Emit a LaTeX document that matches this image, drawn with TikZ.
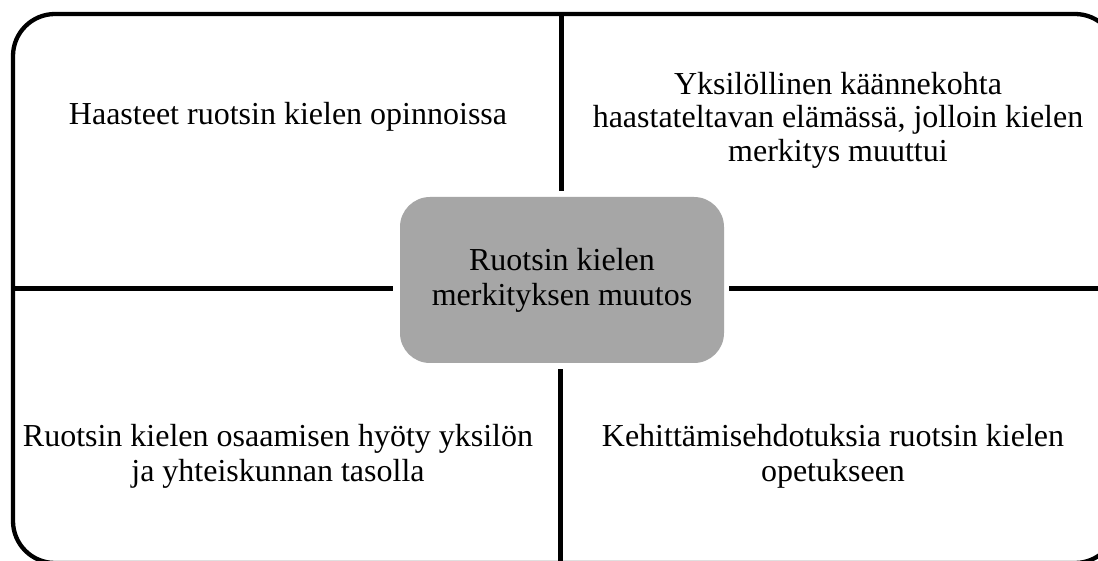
\documentclass[tikz,border=0pt]{standalone}
\usepackage{fontspec}
\setmainfont{Liberation Serif}
\definecolor{boxgray}{RGB}{166,166,166}
\begin{document}
\begin{tikzpicture}[x=1pt,y=-1pt,
  frame/.style={draw=black,line width=4.3pt,rounded corners=42pt},
  divider/.style={draw=black,line width=5pt},
  centerbox/.style={fill=boxgray,draw=none,rounded corners=30pt,minimum width=324pt,minimum height=166pt,inner sep=0pt,align=center,font=\fontsize{32}{35}\selectfont},
  quadtext/.style={inner sep=0pt,align=center,font=\fontsize{32}{35}\selectfont}]
\useasboundingbox (0,0) rectangle (1098,561);
\clip (0,0) rectangle (1098,561);
\fill[white] (0,0) rectangle (1098,561);
\draw[frame] (13,14) rectangle (1117,563);
\node[centerbox] (c) at (562,280) {Ruotsin kielen\\merkityksen muutos};
\coordinate (ft) at (561.5,13);
\coordinate (fb) at (560,563);
\coordinate (fl) at (13,289);
\coordinate (fr) at (1117,289);
\draw[divider,shorten >=6pt] (ft) -- (ft |- c.north);
\draw[divider,shorten >=6pt] (fb) -- (fb |- c.south);
\draw[divider,shorten >=7pt] (fl) -- (fl -| c.west);
\draw[divider,shorten >=5pt] (fr) -- (fr -| c.east);
\node[quadtext,anchor=base] (q1) at (288,125) {Haasteet ruotsin kielen opinnoissa};
\node[quadtext,font=\fontsize{32}{33.5}\selectfont] (q2) at (838,120) {Yksilöllinen käännekohta\\haastateltavan elämässä, jolloin kielen\\merkitys muuttui};
\node[quadtext] (q3) at (278,456) {Ruotsin kielen osaamisen hyöty yksilön\\ja yhteiskunnan tasolla};
\node[quadtext] (q4) at (833,456) {Kehittämisehdotuksia ruotsin kielen\\opetukseen};
\end{tikzpicture}
\end{document}
